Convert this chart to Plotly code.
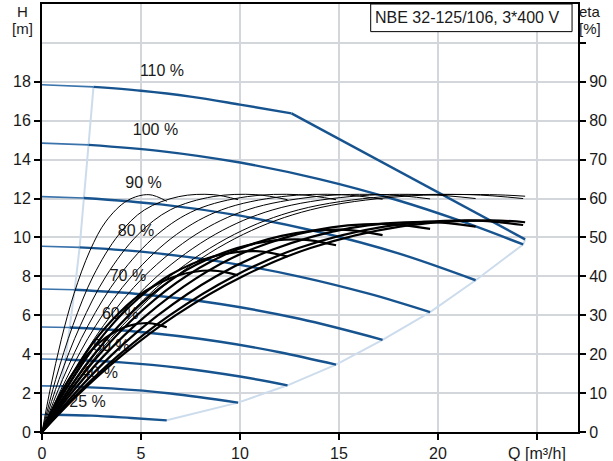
import plotly.graph_objects as go

# ---------------- data ----------------
speeds = [25, 40, 50, 60, 70, 80, 90, 100, 110]
speed_labels = ["25 %", "40 %", "50 %", "60 %", "70 %", "80 %", "90 %", "100 %", "110 %"]

# pump curves H(Q); index 1 = minimum-flow point (light part before it)
pump_q = [
    [0, 0.59, 2.5, 4.5, 6.3],
    [0, 0.94, 3.5, 6.5, 9.9],
    [0, 1.18, 4, 7, 10, 12.4],
    [0, 1.4, 5, 9, 12, 14.85],
    [0, 1.65, 5, 9, 13, 17.2],
    [0, 1.9, 5, 9, 13, 16.5, 19.6],
    [0, 2.1, 6, 10, 14, 18, 21.9],
    [0, 2.35, 6, 10, 14, 18, 21, 24.3],
    [0, 2.6, 5, 7.5, 10, 12.6],
]
pump_h = [
    [0.90, 0.89, 0.84, 0.72, 0.60],
    [2.37, 2.36, 2.24, 1.98, 1.51],
    [3.75, 3.73, 3.58, 3.29, 2.85, 2.40],
    [5.40, 5.37, 5.14, 4.64, 4.10, 3.46],
    [7.35, 7.31, 7.08, 6.58, 5.82, 4.74],
    [9.55, 9.49, 9.27, 8.76, 7.99, 7.11, 6.16],
    [12.10, 12.03, 11.70, 11.12, 10.28, 9.18, 7.80],
    [14.85, 14.76, 14.44, 13.85, 13.00, 11.90, 10.90, 9.64],
    [17.85, 17.74, 17.54, 17.24, 16.83, 16.38],
]
# power-limited part of the 110 % curve
limit_q = [12.6, 24.4]
limit_h = [16.38, 9.9]

# min-flow line and end-of-curve line (light blue)
minflow_q = [0.59, 0.94, 1.18, 1.4, 1.65, 1.9, 2.1, 2.35, 2.6]
minflow_h = [0.89, 2.36, 3.73, 5.37, 7.31, 9.49, 12.03, 14.76, 17.74]
end_q = [6.3, 9.9, 12.4, 14.85, 17.2, 19.6, 21.9, 24.3, 24.4]
end_h = [0.60, 1.51, 2.40, 3.46, 4.74, 6.16, 7.80, 9.64, 9.9]

# efficiency curves (right axis), same Q points for pump and total efficiency
eta_q = [
    [0, 0.43, 0.97, 1.62, 2.43, 3.24, 4.32, 5.4, 6.3],
    [0, 0.69, 1.56, 2.59, 3.89, 5.18, 6.91, 8.64, 9.9],
    [0, 0.86, 1.94, 3.24, 4.86, 6.48, 8.64, 10.8, 12.4],
    [0, 1.04, 2.33, 3.89, 5.83, 7.78, 10.37, 12.96, 14.85],
    [0, 1.21, 2.72, 4.54, 6.80, 9.07, 12.10, 15.12, 17.2],
    [0, 1.38, 3.11, 5.18, 7.78, 10.37, 13.82, 17.28, 19.6],
    [0, 1.56, 3.50, 5.83, 8.75, 11.66, 15.55, 19.44, 21.9],
    [0, 1.73, 3.89, 6.48, 9.72, 12.96, 17.28, 21.6, 24.3],
    [0, 1.81, 4.07, 6.78, 10.17, 13.56, 18.08, 22.6, 24.4],
]
eta_pump = [
    [0, 11.4, 23.7, 35.6, 46.7, 54.2, 59.5, 61.0, 59.3],
    [0, 13.5, 27.4, 40.1, 50.8, 57.1, 60.5, 61.0, 59.7],
    [0, 13.5, 27.4, 40.1, 50.8, 57.1, 60.5, 61.0, 59.7],
    [0, 13.5, 27.4, 40.1, 50.8, 57.1, 60.5, 61.0, 59.7],
    [0, 13.5, 27.4, 40.1, 50.8, 57.1, 60.5, 61.0, 59.8],
    [0, 13.5, 27.4, 40.1, 50.8, 57.1, 60.5, 61.0, 59.9],
    [0, 13.5, 27.4, 40.1, 50.8, 57.1, 60.5, 61.0, 60.0],
    [0, 13.5, 27.4, 40.1, 50.8, 57.1, 60.5, 61.0, 60.0],
    [0, 13.5, 27.4, 40.1, 50.8, 57.1, 60.5, 61.0, 60.6],
]
eta_total = [
    [0, 4.9, 10.2, 15.5, 20.7, 24.3, 27.2, 28.0, 26.9],
    [0, 7.2, 15.1, 23.0, 30.6, 36.1, 40.3, 41.5, 40.3],
    [0, 8.1, 16.9, 25.8, 34.3, 40.4, 45.1, 46.5, 45.1],
    [0, 8.6, 18.0, 27.4, 36.5, 43.0, 48.0, 49.5, 48.0],
    [0, 9.0, 18.9, 28.8, 38.4, 45.2, 50.4, 52.0, 50.6],
    [0, 9.3, 19.5, 29.6, 39.5, 46.5, 51.9, 53.5, 52.2],
    [0, 9.4, 19.7, 29.9, 39.9, 46.9, 52.4, 54.0, 52.8],
    [0, 9.5, 19.8, 30.1, 40.1, 47.3, 52.8, 54.4, 53.2],
    [0, 9.5, 19.8, 30.1, 40.1, 47.3, 52.8, 54.4, 53.9],
]

# label anchor points (Q, H)
label_q = [2.3, 2.92, 3.5, 3.95, 4.34, 4.75, 5.13, 5.73, 6.06]
label_h = [1.49, 2.98, 4.37, 6.02, 7.97, 10.29, 12.76, 15.48, 18.52]

x_tickvals = [0, 5, 10, 15, 20, 25]
x_ticktext = ["0", "5", "10", "15", "20", "Q [m³/h]"]
h_tickvals = [0, 2, 4, 6, 8, 10, 12, 14, 16, 18]
eta_tickvals = [0, 10, 20, 30, 40, 50, 60, 70, 80, 90, 100]
eta_ticktext = ["0", "10", "20", "30", "40", "50", "60", "70", "80", "90", ""]

title_text = "NBE 32-125/106, 3*400 V"

# ---------------- styling ----------------
FONT = "Liberation Sans, Arial, sans-serif"
NARROW = "Liberation Sans Narrow, Arial Narrow, Liberation Sans, sans-serif"
DARK_BLUE = "#17548f"
MID_BLUE = "#3b73ab"
LIGHT_BLUE = "#cddcec"
GRID = "#d3d7db"
TXT = "#1a1a1a"

fig = go.Figure()

fig.add_trace(go.Scatter(x=minflow_q, y=minflow_h, mode="lines",
                         line=dict(color=LIGHT_BLUE, width=2), hoverinfo="skip"))
fig.add_trace(go.Scatter(x=end_q, y=end_h, mode="lines",
                         line=dict(color=LIGHT_BLUE, width=2), hoverinfo="skip"))

for q, h in zip(pump_q, pump_h):
    fig.add_trace(go.Scatter(x=q[:2], y=h[:2], mode="lines",
                             line=dict(color=MID_BLUE, width=1.6), hoverinfo="skip"))
    fig.add_trace(go.Scatter(x=q[1:], y=h[1:], mode="lines",
                             line=dict(color=DARK_BLUE, width=2.4, shape="spline"),
                             hoverinfo="skip"))
fig.add_trace(go.Scatter(x=limit_q, y=limit_h, mode="lines",
                         line=dict(color=DARK_BLUE, width=2.4), hoverinfo="skip"))

fig.add_trace(go.Scatter(x=label_q, y=label_h, mode="text", text=speed_labels,
                         textfont=dict(family=FONT, size=16, color=TXT),
                         hoverinfo="skip"))

for q, e in zip(eta_q, eta_pump):
    fig.add_trace(go.Scatter(x=q, y=e, yaxis="y2", mode="lines",
                             line=dict(color="black", width=1, shape="spline"),
                             hoverinfo="skip"))
for q, e in zip(eta_q, eta_total):
    fig.add_trace(go.Scatter(x=q, y=e, yaxis="y2", mode="lines",
                             line=dict(color="black", width=2.2, shape="spline"),
                             hoverinfo="skip"))

axis_common = dict(showline=True, linecolor="black", linewidth=2, ticks="outside",
                   ticklen=6, tickwidth=2, tickcolor="black", zeroline=False,
                   automargin=False,
                   tickfont=dict(family=FONT, size=16, color=TXT))

fig.update_layout(
    width=613, height=461,
    margin=dict(l=42, r=35, t=4, b=29),
    paper_bgcolor="white", plot_bgcolor="white",
    showlegend=False,
    xaxis=dict(range=[0, 27.07], tickvals=x_tickvals, ticktext=x_ticktext,
               showgrid=True, gridcolor=GRID, gridwidth=1.5, mirror=True, **axis_common),
    yaxis=dict(range=[0, 22], tickvals=h_tickvals, showgrid=False, **axis_common),
    yaxis2=dict(range=[0, 110], tickvals=eta_tickvals, ticktext=eta_ticktext,
                overlaying="y", side="right", showgrid=True, gridcolor=GRID,
                gridwidth=1.5, **axis_common),
    shapes=[dict(type="rect", xref="x", yref="y", x0=16.6, x1=26.77, y0=20.58, y1=22,
                 line=dict(color="black", width=1), fillcolor="white", layer="above")],
    annotations=[
        dict(text=title_text, xref="x", yref="y", x=16.72, y=21.29, xanchor="left",
             yanchor="middle", showarrow=False, font=dict(family=FONT, size=16, color=TXT)),
        dict(text="H", xref="paper", yref="paper", x=-0.0373, y=0.9836, xanchor="center",
             yanchor="middle", showarrow=False, font=dict(family=FONT, size=15, color=TXT)),
        dict(text="[m]", xref="paper", yref="paper", x=-0.0373, y=0.9428, xanchor="center",
             yanchor="middle", showarrow=False, font=dict(family=FONT, size=15, color=TXT)),
        dict(text="eta", xref="paper", yref="paper", x=1.022, y=0.9836, xanchor="center",
             yanchor="middle", showarrow=False, font=dict(family=NARROW, size=15, color=TXT)),
        dict(text="[%]", xref="paper", yref="paper", x=1.022, y=0.9428, xanchor="center",
             yanchor="middle", showarrow=False, font=dict(family=NARROW, size=15, color=TXT)),
    ],
)

fig.write_html("out.html", config={"displayModeBar": False},
               post_script="document.body.style.margin='0';document.body.style.overflow='hidden';")
